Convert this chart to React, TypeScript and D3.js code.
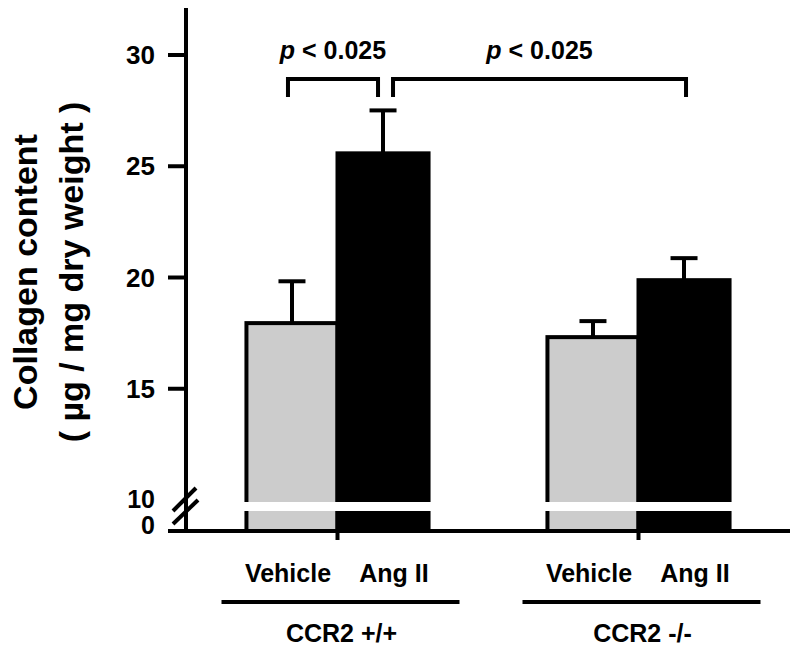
import React from "react";
import * as d3 from "d3";

const groups = ["CCR2 +/+", "CCR2 -/-"];
const treatments = ["Vehicle", "Ang II"];
const meanValues = [
  [17.95, 25.58],
  [17.32, 19.88],
];
const semValues = [
  [1.88, 1.93],
  [0.72, 0.99],
];
const yTickValues = [15, 20, 25, 30];
const comparisons = [
  { from: [0, 0], to: [0, 1], label: "< 0.025" },
  { from: [0, 1], to: [1, 1], label: "< 0.025" },
];
const fills = ["#cccccc", "#000000"];

export default function App() {
  const W = 800;
  const H = 652;
  const axisX = 186;
  const baseY = 531;
  const font = "'Liberation Sans', Arial, Helvetica, sans-serif";
  const y = d3.scaleLinear().domain([10, 30]).range([500, 55]);
  const xg = d3
    .scaleBand<string>()
    .domain(groups)
    .range([187, 789])
    .paddingInner(0.395)
    .paddingOuter(0.1975);
  const xt = d3.scaleBand<string>().domain(treatments).range([0, xg.bandwidth()]);
  const barCenter = (gi: number, ti: number) =>
    (xg(groups[gi]) as number) + (xt(treatments[ti]) as number) + xt.bandwidth() / 2;

  const bracketOffsets = [
    [-4, -5],
    [10, 2],
  ];

  return (
    <svg
      width={W}
      height={H}
      style={{ position: "absolute", left: 0, top: 0, background: "#fff" }}
      fontFamily={font}
      fontWeight="bold"
    >
      <rect x={0} y={0} width={W} height={H} fill="#fff" />
      {/* bars */}
      {groups.map((g, gi) =>
        treatments.map((t, ti) => {
          const x0 = (xg(g) as number) + (xt(t) as number);
          const yt = y(meanValues[gi][ti]);
          return (
            <rect
              key={g + t}
              x={x0}
              y={yt}
              width={xt.bandwidth()}
              height={baseY - yt}
              fill={fills[ti]}
              stroke="#000"
              strokeWidth={4}
            />
          );
        })
      )}
      {/* error bars */}
      {groups.map((g, gi) =>
        treatments.map((t, ti) => {
          const cx = barCenter(gi, ti);
          const yt = y(meanValues[gi][ti]);
          const ye = y(meanValues[gi][ti] + semValues[gi][ti]);
          return (
            <g key={"e" + g + t} stroke="#000" strokeWidth={4}>
              <line x1={cx} x2={cx} y1={yt} y2={ye} />
              <line x1={cx - 13.5} x2={cx + 13.5} y1={ye} y2={ye} />
            </g>
          );
        })
      )}
      {/* break band over bars */}
      {groups.map((g) => (
        <rect
          key={"band" + g}
          x={(xg(g) as number) - 4}
          y={502}
          width={xg.bandwidth() + 8}
          height={9}
          fill="#fff"
        />
      ))}
      {/* y axis */}
      <line x1={axisX} x2={axisX} y1={8} y2={baseY + 2} stroke="#000" strokeWidth={4} />
      <line x1={168} x2={790} y1={baseY} y2={baseY} stroke="#000" strokeWidth={4} />
      {groups.map((g) => {
        const cx = (xg(g) as number) + xg.bandwidth() / 2;
        return (
          <line key={"xt" + g} x1={cx} x2={cx} y1={baseY} y2={baseY + 9} stroke="#000" strokeWidth={4} />
        );
      })}
      {yTickValues.map((v) => (
        <g key={"t" + v}>
          <line x1={168} x2={axisX} y1={y(v)} y2={y(v)} stroke="#000" strokeWidth={4} />
          <text x={155} y={y(v)} dy="0.35em" textAnchor="end" fontSize={26}>
            {v}
          </text>
        </g>
      ))}
      <text x={155} y={508} textAnchor="end" fontSize={25}>
        10
      </text>
      <text x={155} y={534} textAnchor="end" fontSize={25}>
        0
      </text>
      {/* break slashes */}
      <line x1={axisX - 13} y1={511} x2={axisX + 10} y2={488} stroke="#000" strokeWidth={4} />
      <line x1={axisX - 13} y1={524} x2={axisX + 12} y2={500} stroke="#000" strokeWidth={4} />
      {/* y label */}
      <g transform="translate(37,272) rotate(-90)">
        <text textAnchor="middle" fontSize={34}>
          Collagen content
        </text>
      </g>
      <g transform="translate(83,272) rotate(-90)">
        <text textAnchor="middle" fontSize={34}>
          ( µg / mg dry weight )
        </text>
      </g>
      {/* comparisons */}
      {comparisons.map((c, i) => {
        const x1 = barCenter(c.from[0], c.from[1]) + bracketOffsets[i][0];
        const x2 = barCenter(c.to[0], c.to[1]) + bracketOffsets[i][1];
        return (
          <g key={"c" + i}>
            <path
              d={`M${x1},97 V79 H${x2} V97`}
              fill="none"
              stroke="#000"
              strokeWidth={4}
            />
            <text x={(x1 + x2) / 2} y={59} textAnchor="middle" fontSize={25}>
              <tspan fontStyle="italic">p</tspan> {c.label}
            </text>
          </g>
        );
      })}
      {/* x labels */}
      {groups.map((g, gi) => {
        const gc = (xg(g) as number) + xg.bandwidth() / 2;
        return (
          <g key={"xl" + g}>
            {treatments.map((t, ti) => (
              <text
                key={t}
                x={barCenter(gi, ti) + (ti === 0 ? -4 : 11)}
                y={582}
                textAnchor="middle"
                fontSize={25}
              >
                {t}
              </text>
            ))}
            <line x1={gc - 116} x2={gc + 122} y1={602} y2={602} stroke="#000" strokeWidth={4} />
            <text x={gc + 4} y={642} textAnchor="middle" fontSize={25}>
              {g}
            </text>
          </g>
        );
      })}
    </svg>
  );
}
